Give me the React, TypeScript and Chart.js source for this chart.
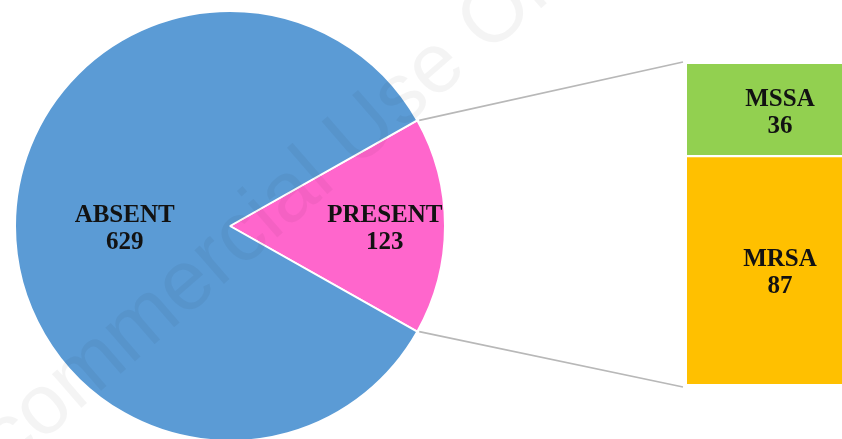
import React, { useEffect, useRef } from "react";
import { Chart, registerables } from "chart.js";

Chart.register(...registerables);

// ---- data ----
const pieLabels = ["PRESENT", "ABSENT"];
const pieValues = [123, 629];
const pieColors = ["#FF66CC", "#5B9BD5"];

const barLabels = ["MRSA", "MSSA"]; // bottom to top
const barValues = [87, 36];
const barColors = ["#FFC000", "#92D050"];

const watermarkText = "Non-commercial Use Only";

const LABEL_FONT = "bold 25px 'Liberation Serif', 'Times New Roman', serif";
const LABEL_COLOR = "#121212";

function drawTwoLines(ctx: CanvasRenderingContext2D, a: string, b: string, x: number, y: number) {
  ctx.save();
  ctx.font = LABEL_FONT;
  ctx.fillStyle = LABEL_COLOR;
  ctx.textAlign = "center";
  ctx.textBaseline = "middle";
  ctx.fillText(a, x, y - 13.5);
  ctx.fillText(b, x, y + 13.5);
  ctx.restore();
}

export default function App() {
  const pieRef = useRef<HTMLCanvasElement | null>(null);
  const barRef = useRef<HTMLCanvasElement | null>(null);

  useEffect(() => {
    const total = pieValues.reduce((s, v) => s + v, 0);
    const halfPresent = (pieValues[0] / total) * 180;
    const labelRadius = [0.72, 0.49];

    const pieLabelPlugin = {
      id: "pieLabels",
      afterDatasetsDraw(chart: any) {
        const ctx = chart.ctx;
        const meta = chart.getDatasetMeta(0);
        meta.data.forEach((arc: any, i: number) => {
          const p = arc.getProps(["x", "y", "startAngle", "endAngle", "outerRadius"], true);
          const mid = (p.startAngle + p.endAngle) / 2;
          const r = p.outerRadius * labelRadius[i];
          drawTwoLines(ctx, pieLabels[i], String(pieValues[i]), p.x + Math.cos(mid) * r, p.y + Math.sin(mid) * r + 3);
        });
      },
    };

    const pie = new Chart(pieRef.current!, {
      type: "pie",
      data: {
        labels: pieLabels,
        datasets: [
          {
            data: pieValues,
            backgroundColor: pieColors,
            borderColor: "#ffffff",
            borderWidth: 2,
          },
        ],
      },
      options: {
        responsive: false,
        animation: false,
        rotation: 90 - halfPresent,
        layout: { padding: { left: 14, top: 10, right: 396, bottom: 18 } },
        plugins: { legend: { display: false }, tooltip: { enabled: false } },
      },
      plugins: [pieLabelPlugin],
    });

    const barTotal = barValues.reduce((s, v) => s + v, 0);

    const overlayPlugin = {
      id: "overlay",
      beforeDatasetsDraw(chart: any) {
        const ctx = chart.ctx;
        const arc: any = pie.getDatasetMeta(0).data[0];
        const p = arc.getProps(["x", "y", "startAngle", "endAngle", "outerRadius"], true);
        const area = chart.chartArea;
        ctx.save();
        ctx.strokeStyle = "#B8B8B8";
        ctx.lineWidth = 1.7;
        ctx.beginPath();
        ctx.moveTo(p.x + Math.cos(p.startAngle) * p.outerRadius + 2, p.y + Math.sin(p.startAngle) * p.outerRadius);
        ctx.lineTo(area.left - 4, area.top - 2);
        ctx.moveTo(p.x + Math.cos(p.endAngle) * p.outerRadius + 2, p.y + Math.sin(p.endAngle) * p.outerRadius);
        ctx.lineTo(area.left - 4, area.bottom + 3);
        ctx.stroke();
        ctx.restore();
      },
      afterDatasetsDraw(chart: any) {
        const ctx = chart.ctx;
        chart.data.datasets.forEach((_: any, i: number) => {
          const bar: any = chart.getDatasetMeta(i).data[0];
          const b = bar.getProps(["x", "y", "base"], true);
          drawTwoLines(ctx, barLabels[i], String(barValues[i]), b.x, (b.y + b.base) / 2 + 2);
        });
        // watermark
        ctx.save();
        ctx.font = "85px 'Liberation Sans', Arial, sans-serif";
        ctx.fillStyle = "rgba(0,0,0,0.045)";
        ctx.textBaseline = "alphabetic";
        ctx.translate(355, 170);
        ctx.rotate((-41 * Math.PI) / 180);
        const pre = ctx.measureText(watermarkText.slice(0, watermarkText.indexOf("Use"))).width;
        ctx.fillText(watermarkText, -pre, 0);
        ctx.restore();
      },
    };

    const bar = new Chart(barRef.current!, {
      type: "bar",
      data: {
        labels: [""],
        datasets: barLabels.map((l, i) => ({
          label: l,
          data: [barValues[i]],
          backgroundColor: barColors[i],
          borderColor: "#ffffff",
          borderWidth: i === barLabels.length - 1 ? { top: 0, left: 0, right: 0, bottom: 3 } : 0,
          borderSkipped: false,
          barPercentage: 1,
          categoryPercentage: 1,
        })),
      },
      options: {
        responsive: false,
        animation: false,
        layout: { padding: { left: 687, right: 27, top: 64, bottom: 55 } },
        scales: {
          x: { stacked: true, display: false },
          y: { stacked: true, display: false, min: 0, max: barTotal },
        },
        plugins: { legend: { display: false }, tooltip: { enabled: false } },
      },
      plugins: [overlayPlugin],
    });

    return () => {
      bar.destroy();
      pie.destroy();
    };
  }, []);

  return (
    <div
      style={{
        position: "absolute",
        left: 0,
        top: 0,
        width: 842,
        height: 439,
        overflow: "hidden",
        background: "#ffffff",
      }}
    >
      <canvas ref={pieRef} width={842} height={460} style={{ position: "absolute", left: 0, top: 0 }} />
      <canvas ref={barRef} width={900} height={439} style={{ position: "absolute", left: 0, top: 0 }} />
    </div>
  );
}
